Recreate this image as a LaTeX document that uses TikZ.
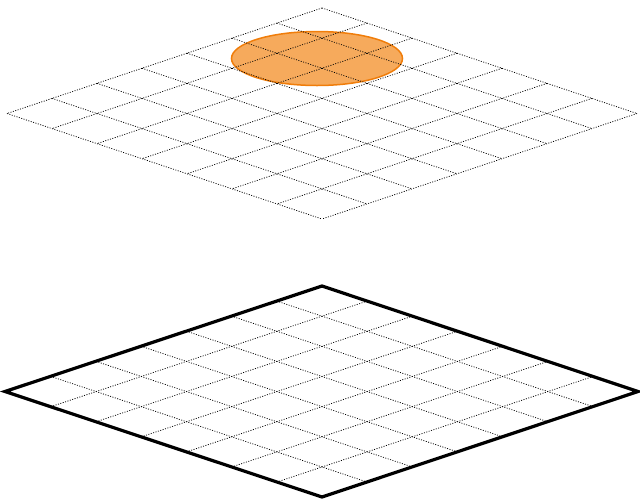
\documentclass[tikz,border=0pt]{standalone}
\usetikzlibrary{shapes.geometric,calc}
\begin{document}
\begin{tikzpicture}[x=1pt,y=-1pt,
  gridline/.style={black, line width=0.75pt, dash pattern=on 1pt off 1.5pt},
  border/.style={black, line width=3.2pt, line join=miter},
  spot/.style={draw={rgb,255:red,240;green,125;blue,10}, line width=1.5pt, fill={rgb,255:red,246;green,170;blue,92}}]
\useasboundingbox (0,0) rectangle (640,499);
% orange spot
\node[spot, ellipse, minimum width=171pt, minimum height=54pt, inner sep=0pt] (spot) at (317,58.5) {};
% top grid
\coordinate (T1) at (322,8);
\foreach \i in {0,...,7}{
  \draw[gridline] ($(T1)+(-45*\i,15.07*\i)$) -- ($(T1)+(-45*\i,15.07*\i)+(315,105.5)$);
  \draw[gridline] ($(T1)+(45*\i,15.07*\i)$) -- ($(T1)+(45*\i,15.07*\i)+(-315,105.5)$);
}
% bottom grid
\coordinate (T2) at (322,286);
\coordinate (L2) at (5,391.5);
\coordinate (R2) at (638,391.5);
\coordinate (B2) at (322,497);
\foreach \i in {1,...,6}{
  \draw[gridline] ($(T2)+(-45.2*\i,15.07*\i)$) -- ($(T2)+(-45.2*\i,15.07*\i)+(316,105.5)$);
  \draw[gridline] ($(T2)+(45.2*\i,15.07*\i)$) -- ($(T2)+(45.2*\i,15.07*\i)+(-316,105.5)$);
}
\draw[border] (T2) -- (R2) -- (B2) -- (L2) -- cycle;
\end{tikzpicture}
\end{document}
